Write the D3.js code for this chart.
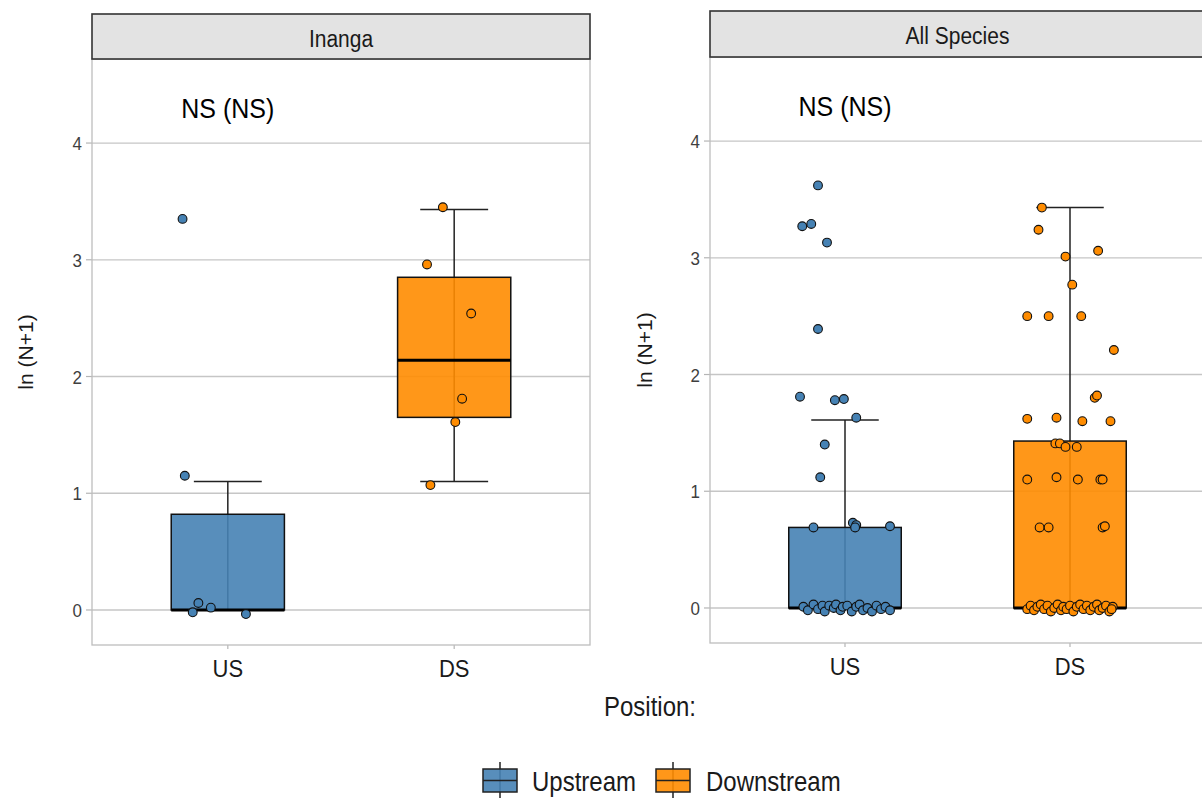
<!DOCTYPE html>
<html>
<head>
<meta charset="utf-8">
<script src="https://cdn.jsdelivr.net/npm/d3@7"></script>
<style>
  html, body { margin: 0; padding: 0; background: #ffffff; }
  svg { display: block; font-family: "Liberation Sans", Arial, sans-serif; }
</style>
</head>
<body>
<svg id="chart" width="1202" height="798"></svg>
<script>
// ---- data ----
const positions = ["US", "DS"];
const positionNames = ["Upstream", "Downstream"];
const fills = ["#4682b4", "#ff8c00"];
const yTicks = [0, 1, 2, 3, 4];
const panelTitles = ["Inanga", "All Species"];
const sigLabels = ["NS (NS)", "NS (NS)"];
const sigLabelY = 4.3;

// boxplot summaries: lower whisker, Q1, median, Q3, upper whisker
const inangaUSBox = [0, 0, 0, 0.82, 1.10];
const inangaDSBox = [1.10, 1.65, 2.14, 2.85, 3.43];
const allUSBox = [0, 0, 0, 0.69, 1.61];
const allDSBox = [0, 0, 0, 1.43, 3.43];

// jittered observations: [offset in category steps, ln(N+1)]
const inangaUSPts = [[-0.20, 3.35], [-0.19, 1.15], [-0.13, 0.06], [-0.155, -0.02], [-0.075, 0.02], [0.08, -0.035]];
const inangaDSPts = [[-0.05, 3.45], [-0.12, 2.96], [0.075, 2.54], [0.035, 1.81], [0.005, 1.61], [-0.105, 1.07]];
const allUSPts = [
  [-0.12, 3.62], [-0.19, 3.27], [-0.15, 3.29], [-0.08, 3.13], [-0.12, 2.39],
  [-0.20, 1.81], [-0.045, 1.78], [-0.005, 1.79], [0.05, 1.63], [-0.09, 1.40], [-0.11, 1.12],
  [-0.14, 0.69], [0.035, 0.73], [0.05, 0.71], [0.045, 0.69], [0.20, 0.70],
  [-0.185, 0.01], [-0.165, -0.02], [-0.14, 0.03], [-0.12, -0.01], [-0.10, 0.02], [-0.09, -0.03],
  [-0.07, 0.02], [-0.05, 0.00], [-0.04, 0.03], [-0.02, -0.02], [-0.01, 0.01], [0.01, 0.02],
  [0.03, -0.03], [0.05, 0.01], [0.065, 0.03], [0.08, -0.02], [0.10, 0.00], [0.12, -0.03],
  [0.14, 0.02], [0.16, -0.01], [0.18, 0.01], [0.20, -0.02]
];
const allDSPts = [
  [-0.125, 3.43], [-0.14, 3.24], [-0.02, 3.01], [0.125, 3.06], [0.01, 2.77],
  [-0.19, 2.50], [-0.095, 2.50], [0.05, 2.50], [0.195, 2.21],
  [0.11, 1.80], [0.12, 1.82], [-0.19, 1.62], [-0.06, 1.63], [0.055, 1.60], [0.18, 1.60],
  [-0.065, 1.41], [-0.045, 1.41], [-0.02, 1.38], [0.03, 1.38],
  [-0.19, 1.10], [-0.06, 1.12], [0.035, 1.10], [0.135, 1.10], [0.145, 1.10],
  [-0.135, 0.69], [-0.095, 0.69], [0.145, 0.69], [0.155, 0.70],
  [-0.19, -0.01], [-0.175, 0.02], [-0.16, -0.02], [-0.145, 0.01], [-0.13, 0.03], [-0.115, -0.01],
  [-0.10, 0.02], [-0.085, -0.03], [-0.07, 0.00], [-0.055, 0.03], [-0.04, -0.02], [-0.03, 0.01],
  [-0.015, -0.01], [0.00, 0.02], [0.015, -0.03], [0.03, 0.01], [0.045, 0.03], [0.06, -0.01],
  [0.075, 0.02], [0.09, -0.02], [0.105, 0.01], [0.12, 0.03], [0.13, -0.02], [0.145, 0.00],
  [0.16, 0.02], [0.175, -0.03], [0.19, 0.01], [0.185, -0.01]
];

// ---- layout ----
const svg = d3.select("#chart");
const SY = 1.12; // vertical stretch applied to horizontal labels

const panels = [
  { title: panelTitles[0], sig: sigLabels[0], boxes: [inangaUSBox, inangaDSBox], pts: [inangaUSPts, inangaDSPts],
    x0: 92, x1: 590, top: 59, bottom: 645, stripTop: 14, titleX: 33 },
  { title: panelTitles[1], sig: sigLabels[1], boxes: [allUSBox, allDSBox], pts: [allUSPts, allDSPts],
    x0: 710, x1: 1205, top: 57, bottom: 643, stripTop: 11, titleX: 652 }
];

function hText(g, x, y, txt, size, anchor, color) {
  return g.append("text")
    .attr("transform", `translate(${x},${y}) scale(1,${SY})`)
    .attr("text-anchor", anchor)
    .attr("font-size", size)
    .attr("fill", color)
    .text(txt);
}

panels.forEach(p => {
  const g = svg.append("g");
  const x = d3.scalePoint().domain(positions).range([p.x0, p.x1]).padding(0.6);
  const step = x.step();
  const y = d3.scaleLinear().domain([-0.3, 4.72]).range([p.bottom, p.top]);

  // horizontal grid
  g.selectAll("line.grid").data(yTicks).join("line")
    .attr("x1", p.x0).attr("x2", p.x1)
    .attr("y1", d => y(d)).attr("y2", d => y(d))
    .attr("stroke", "#c6c6c6").attr("stroke-width", 1.3);

  // y axis ticks and labels
  g.selectAll("line.ytick").data(yTicks).join("line")
    .attr("x1", p.x0 - 6).attr("x2", p.x0)
    .attr("y1", d => y(d)).attr("y2", d => y(d))
    .attr("stroke", "#b5b5b5").attr("stroke-width", 1.2);
  yTicks.forEach(t => hText(g, p.x0 - 10, y(t) + 7, String(t), 17, "end", "#3f3f3f"));

  // x axis ticks and labels
  positions.forEach(c => {
    g.append("line").attr("x1", x(c)).attr("x2", x(c))
      .attr("y1", p.bottom).attr("y2", p.bottom + 4)
      .attr("stroke", "#b5b5b5").attr("stroke-width", 1.2);
    hText(g, x(c), p.bottom + 32, c, 22, "middle", "#1a1a1a");
  });

  // boxplots
  positions.forEach((c, i) => {
    const b = p.boxes[i];
    const cx = x(c);
    const cap = 0.3 * step / 2, half = 0.5 * step / 2;
    g.append("line").attr("x1", cx).attr("x2", cx).attr("y1", y(b[0])).attr("y2", y(b[4]))
      .attr("stroke", "#222").attr("stroke-width", 1.5);
    [b[0], b[4]].forEach(v => g.append("line")
      .attr("x1", cx - cap).attr("x2", cx + cap).attr("y1", y(v)).attr("y2", y(v))
      .attr("stroke", "#222").attr("stroke-width", 1.5));
    g.append("rect").attr("x", cx - half).attr("width", 2 * half)
      .attr("y", y(b[3])).attr("height", y(b[1]) - y(b[3]))
      .attr("fill", fills[i]).attr("fill-opacity", 0.9)
      .attr("stroke", "#111").attr("stroke-width", 1.5);
    g.append("line").attr("x1", cx - half).attr("x2", cx + half)
      .attr("y1", y(b[2])).attr("y2", y(b[2]))
      .attr("stroke", "#000").attr("stroke-width", 3);
  });

  // jittered points
  positions.forEach((c, i) => {
    g.selectAll(null).data(p.pts[i]).join("circle")
      .attr("cx", d => x(c) + d[0] * step)
      .attr("cy", d => y(d[1]))
      .attr("r", 4.4)
      .attr("fill", fills[i])
      .attr("stroke", "#111").attr("stroke-width", 1.1);
  });

  // panel border
  g.append("rect").attr("x", p.x0).attr("y", p.top)
    .attr("width", p.x1 - p.x0).attr("height", p.bottom - p.top)
    .attr("fill", "none").attr("stroke", "#bdbdbd").attr("stroke-width", 1.3);

  // strip
  g.append("rect").attr("x", p.x0).attr("y", p.stripTop)
    .attr("width", p.x1 - p.x0).attr("height", p.top - p.stripTop)
    .attr("fill", "#e3e3e3").attr("stroke", "#333").attr("stroke-width", 1.6);
  hText(g, (p.x0 + p.x1) / 2, (p.stripTop + p.top) / 2 + 10, p.title, 21, "middle", "#1a1a1a");

  // significance label
  hText(g, x("US"), y(sigLabelY) + 10, p.sig, 25, "middle", "#000");

  // y axis title
  g.append("text")
    .attr("transform", `translate(${p.titleX},${(p.top + p.bottom) / 2}) rotate(-90)`)
    .attr("text-anchor", "middle").attr("font-size", 21).attr("fill", "#1a1a1a")
    .text("ln (N+1)");
});

// ---- legend ----
const lg = svg.append("g");
hText(lg, 650, 716, "Position:", 24, "middle", "#1a1a1a");
const keyX = [483, 656], labelX = [532, 706];
positions.forEach((c, i) => {
  const kx = keyX[i], kw = 34, ky = 769, kh = 23, mid = kx + kw / 2;
  lg.append("line").attr("x1", mid).attr("x2", mid).attr("y1", ky - 7).attr("y2", ky + kh + 7)
    .attr("stroke", "#222").attr("stroke-width", 1.5);
  lg.append("rect").attr("x", kx).attr("y", ky).attr("width", kw).attr("height", kh)
    .attr("fill", fills[i]).attr("fill-opacity", 0.9)
    .attr("stroke", "#222").attr("stroke-width", 1.5);
  lg.append("line").attr("x1", kx).attr("x2", kx + kw).attr("y1", ky + kh / 2).attr("y2", ky + kh / 2)
    .attr("stroke", "#222").attr("stroke-width", 1.5);
  hText(lg, labelX[i], 791, positionNames[i], 24, "start", "#1a1a1a");
});
</script>
</body>
</html>
